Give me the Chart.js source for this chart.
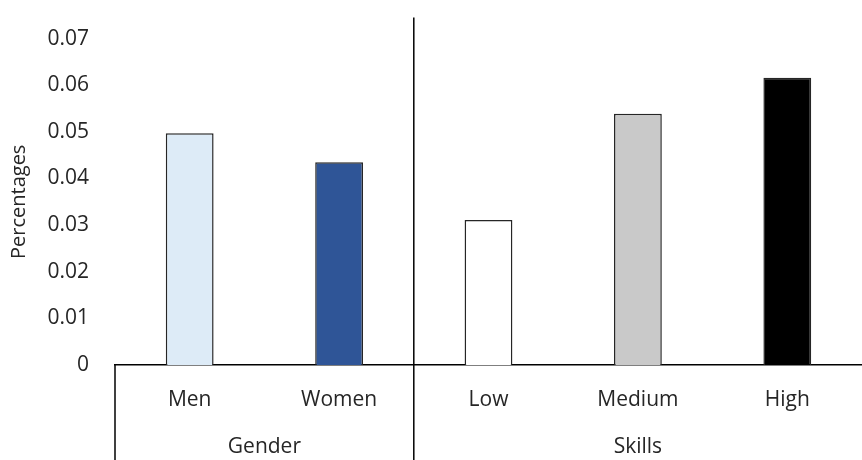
<!DOCTYPE html>
<html>
<head>
<meta charset="utf-8">
<script src="https://cdn.jsdelivr.net/npm/chart.js@4/dist/chart.umd.min.js"></script>
<style>
  html, body { margin: 0; padding: 0; background: #fff; }
  #wrap { width: 862px; height: 460px; }
</style>
</head>
<body>
<div id="wrap"><canvas id="chart" width="862" height="460"></canvas></div>
<script>
// datos
const categories = ["Men", "Women", "Low", "Medium", "High"];
const values = [0.0497, 0.0435, 0.0311, 0.0539, 0.0616];
const barColors = ["#DDEBF7", "#2F5597", "#FFFFFF", "#C9C9C9", "#000000"];
const groups = ["Gender", "Skills"];
const groupSizes = [2, 3];
const yTicks = [0, 0.01, 0.02, 0.03, 0.04, 0.05, 0.06, 0.07];

const textColor = "#262626";
const fontFamily = "'Open Sans', 'DejaVu Sans', sans-serif";

// plugin para las líneas de grupo y las etiquetas "Gender" / "Skills"
const groupPlugin = {
    id: "groups",
    afterDraw(chart) {
        const ctx = chart.ctx;
        const x = chart.scales.x;
        const area = chart.chartArea;
        const bottom = chart.height;
        const step = (x.right - x.left) / categories.length;
        ctx.save();
        ctx.strokeStyle = "#000";
        ctx.lineWidth = 1.5;
        ctx.beginPath();
        ctx.moveTo(area.left, area.bottom);
        ctx.lineTo(area.left, bottom);
        ctx.stroke();

        let start = 0;
        ctx.fillStyle = textColor;
        ctx.font = "21px " + fontFamily;
        ctx.textAlign = "center";
        ctx.textBaseline = "middle";
        groups.forEach((g, i) => {
            const end = start + groupSizes[i];
            const x0 = x.getPixelForValue(start) - step / 2;
            const x1 = x.getPixelForValue(end - 1) + step / 2;
            ctx.fillText(g, (x0 + x1) / 2, area.bottom + 82);
            if (i < groups.length - 1) {
                ctx.beginPath();
                ctx.moveTo(x1, area.top - 21);
                ctx.lineTo(x1, bottom);
                ctx.stroke();
            }
            start = end;
        });
        ctx.restore();
    }
};

new Chart(document.getElementById("chart"), {
    type: "bar",
    data: {
        labels: categories,
        datasets: [{
            data: values,
            backgroundColor: barColors,
            borderColor: "#262626",
            borderWidth: 1.5,
            barPercentage: 0.64,
            categoryPercentage: 0.5
        }]
    },
    options: {
        responsive: false,
        animation: false,
        layout: { padding: { top: 35, right: 0, left: 0, bottom: 0 } },
        plugins: {
            legend: { display: false },
            tooltip: { enabled: false }
        },
        scales: {
            x: {
                grid: { display: false, drawTicks: false },
                border: { display: true, color: "#000", width: 1.5 },
                ticks: {
                    color: textColor,
                    font: { size: 21, family: fontFamily },
                    padding: 22,
                    maxRotation: 0
                },
                afterFit(scale) { scale.height = 95; }
            },
            y: {
                min: 0,
                max: 0.07,
                grid: { display: false, drawTicks: false },
                border: { display: false },
                afterBuildTicks(scale) {
                    scale.ticks = yTicks.map(v => ({ value: v }));
                },
                ticks: {
                    color: textColor,
                    font: { size: 21, family: fontFamily },
                    padding: 26,
                    callback: v => String(v)
                },
                title: {
                    display: true,
                    text: "Percentages",
                    color: textColor,
                    font: { size: 20, family: fontFamily },
                    padding: { top: 7, bottom: 0 }
                },
                afterFit(scale) { scale.width = 115; }
            }
        }
    },
    plugins: [groupPlugin]
});
</script>
</body>
</html>
